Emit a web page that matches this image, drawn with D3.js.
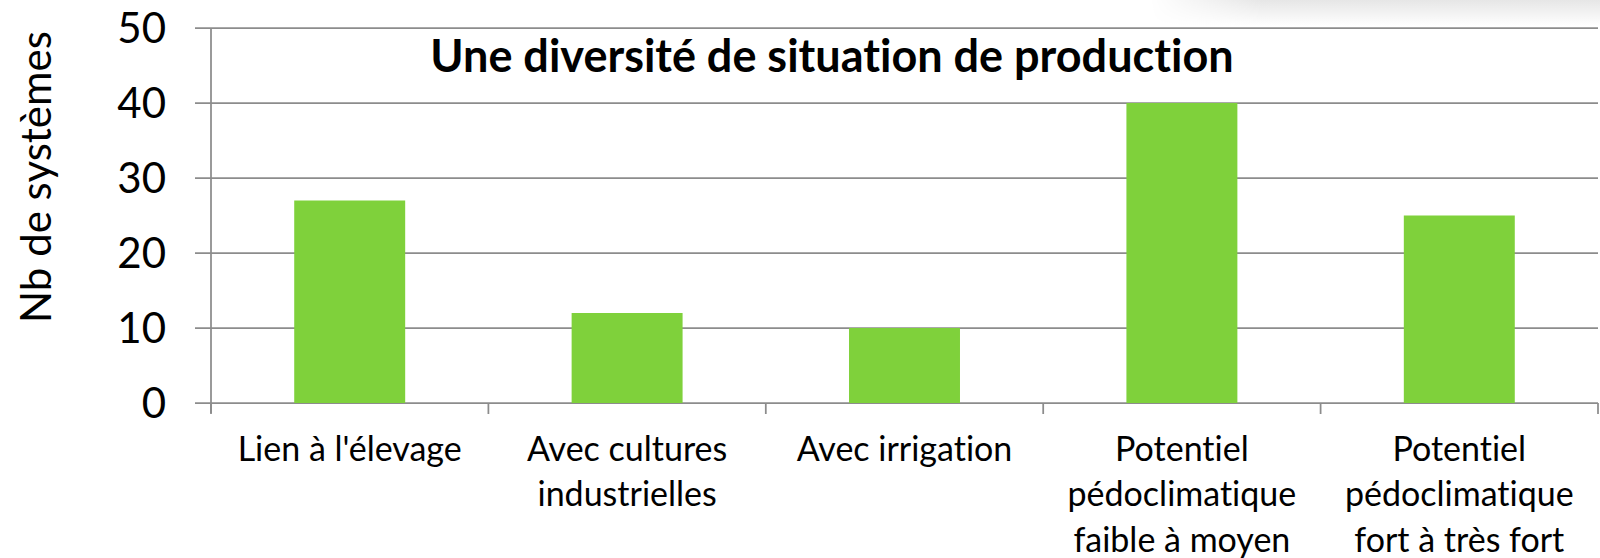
<!DOCTYPE html>
<html>
<head>
<meta charset="utf-8">
<script src="https://cdn.jsdelivr.net/npm/d3@7"></script>
<style>
  html, body { margin: 0; padding: 0; background: #fff; }
  svg { display: block; }
  text { font-variant-ligatures: none; font-feature-settings: "liga" 0; }
</style>
</head>
<body>
<div id="chart"></div>
<script>
// chart data
const categories = [
  ["Lien à l'élevage"],
  ["Avec cultures", "industrielles"],
  ["Avec irrigation"],
  ["Potentiel", "pédoclimatique", "faible à moyen"],
  ["Potentiel", "pédoclimatique", "fort à très fort"]
];
const values = [27, 12, 10, 40, 25];
const yTicks = [0, 10, 20, 30, 40, 50];
const title = "Une diversité de situation de production";
const yLabel = "Nb de systèmes";

const width = 1600;
const height = 558;
const marginTop = 28;
const marginRight = 2;
const marginBottom = 155;
const marginLeft = 211;

const font = "Lato, 'Open Sans', sans-serif";
const gridColour = "#8c8c8c";

const svg = d3.select("#chart").append("svg")
  .attr("width", width)
  .attr("height", height);

// faint shadow in the top right corner
const defs = svg.append("defs");
const vg = defs.append("linearGradient").attr("id", "shade").attr("x1", 0).attr("y1", 0).attr("x2", 0).attr("y2", 1);
vg.append("stop").attr("offset", "0%").attr("stop-color", "#e6e6e6");
vg.append("stop").attr("offset", "100%").attr("stop-color", "#fff");
const hg = defs.append("linearGradient").attr("id", "fade").attr("x1", 0).attr("y1", 0).attr("x2", 1).attr("y2", 0);
hg.append("stop").attr("offset", "0%").attr("stop-color", "#000");
hg.append("stop").attr("offset", "25%").attr("stop-color", "#fff");
hg.append("stop").attr("offset", "100%").attr("stop-color", "#fff");
const mask = defs.append("mask").attr("id", "fadeMask");
mask.append("rect").attr("x", 1150).attr("y", 0).attr("width", 450).attr("height", 26).attr("fill", "url(#fade)");
svg.append("rect")
  .attr("x", 1150).attr("y", 0).attr("width", 450).attr("height", 26)
  .attr("fill", "url(#shade)")
  .attr("mask", "url(#fadeMask)");

const x = d3.scaleBand()
  .domain(d3.range(categories.length))
  .range([marginLeft, width - marginRight])
  .paddingInner(0.6)
  .paddingOuter(0.3);

const y = d3.scaleLinear()
  .domain([0, 50])
  .range([height - marginBottom, marginTop]);

// horizontal gridlines (extend left as tick marks)
svg.append("g")
  .selectAll("line")
  .data(yTicks)
  .join("line")
  .attr("x1", marginLeft - 16)
  .attr("x2", width - marginRight)
  .attr("y1", d => y(d))
  .attr("y2", d => y(d))
  .attr("stroke", gridColour)
  .attr("stroke-width", 1.75);

// y axis line
svg.append("line")
  .attr("x1", marginLeft).attr("x2", marginLeft)
  .attr("y1", y(50)).attr("y2", y(0) + 10)
  .attr("stroke", gridColour)
  .attr("stroke-width", 1.75);

// x axis tick marks between categories
const step = x.step();
const bounds = d3.range(categories.length + 1).map(i => marginLeft + i * step);
svg.append("g")
  .selectAll("line")
  .data(bounds)
  .join("line")
  .attr("x1", d => d).attr("x2", d => d)
  .attr("y1", y(0)).attr("y2", y(0) + 11)
  .attr("stroke", gridColour)
  .attr("stroke-width", 1.75);

// y tick labels
svg.append("g")
  .selectAll("text")
  .data(yTicks)
  .join("text")
  .attr("x", 166)
  .attr("y", d => y(d))
  .attr("dy", "0.35em")
  .attr("text-anchor", "end")
  .attr("font-family", font)
  .attr("font-size", 42)
  .attr("fill", "#000")
  .text(d => d);

// bars
svg.append("g")
  .selectAll("rect")
  .data(values)
  .join("rect")
  .attr("x", (d, i) => x(i))
  .attr("y", d => y(d))
  .attr("width", x.bandwidth())
  .attr("height", d => y(0) - y(d))
  .attr("fill", "#7fd13b");

// category labels
const cat = svg.append("g")
  .selectAll("text")
  .data(categories)
  .join("text")
  .attr("x", (d, i) => x(i) + x.bandwidth() / 2)
  .attr("y", 449)
  .attr("text-anchor", "middle")
  .attr("font-family", font)
  .attr("font-size", 34)
  .attr("fill", "#000");
cat.selectAll("tspan")
  .data(d => d)
  .join("tspan")
  .attr("x", function () { return this.parentNode.getAttribute("x"); })
  .attr("dy", (d, i) => i === 0 ? "0.35em" : "45.5")
  .text(d => d);

// title
svg.append("text")
  .attr("x", 832)
  .attr("y", 72)
  .attr("text-anchor", "middle")
  .attr("font-family", font)
  .attr("font-weight", "bold")
  .attr("font-size", 45)
  .attr("fill", "#000")
  .text(title);

// y axis label
svg.append("text")
  .attr("transform", "translate(36,177) rotate(-90)")
  .attr("dy", "0.35em")
  .attr("text-anchor", "middle")
  .attr("font-family", font)
  .attr("font-size", 42)
  .attr("fill", "#000")
  .text(yLabel);
</script>
</body>
</html>
